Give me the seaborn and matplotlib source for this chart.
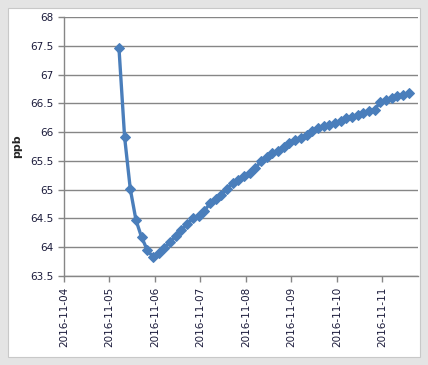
import matplotlib
matplotlib.use("Agg")
import matplotlib.pyplot as plt
import matplotlib.dates as mdates
from matplotlib.patches import Rectangle
import seaborn as sns
import pandas as pd

# 3-hourly readings
times = [
    "2016-11-05 05:00", "2016-11-05 08:00", "2016-11-05 11:00", "2016-11-05 14:00",
    "2016-11-05 17:00", "2016-11-05 20:00", "2016-11-05 23:00",
    "2016-11-06 02:00", "2016-11-06 05:00", "2016-11-06 08:00", "2016-11-06 11:00",
    "2016-11-06 14:00", "2016-11-06 17:00", "2016-11-06 20:00", "2016-11-06 23:00",
    "2016-11-07 02:00", "2016-11-07 05:00", "2016-11-07 08:00", "2016-11-07 11:00",
    "2016-11-07 14:00", "2016-11-07 17:00", "2016-11-07 20:00", "2016-11-07 23:00",
    "2016-11-08 02:00", "2016-11-08 05:00", "2016-11-08 08:00", "2016-11-08 11:00",
    "2016-11-08 14:00", "2016-11-08 17:00", "2016-11-08 20:00", "2016-11-08 23:00",
    "2016-11-09 02:00", "2016-11-09 05:00", "2016-11-09 08:00", "2016-11-09 11:00",
    "2016-11-09 14:00", "2016-11-09 17:00", "2016-11-09 20:00", "2016-11-09 23:00",
    "2016-11-10 02:00", "2016-11-10 05:00", "2016-11-10 08:00", "2016-11-10 11:00",
    "2016-11-10 14:00", "2016-11-10 17:00", "2016-11-10 20:00", "2016-11-10 23:00",
    "2016-11-11 02:00", "2016-11-11 05:00", "2016-11-11 08:00", "2016-11-11 11:00",
    "2016-11-11 14:00",
]
ppb = [
    67.47, 65.91, 65.01, 64.47, 64.17, 63.95, 63.83,
    63.90, 63.98, 64.09, 64.20, 64.30, 64.40, 64.50, 64.55,
    64.63, 64.76, 64.83, 64.91, 65.01, 65.12, 65.17, 65.23,
    65.29, 65.37, 65.50, 65.57, 65.63, 65.68, 65.75, 65.81,
    65.86, 65.90, 65.95, 66.02, 66.07, 66.10, 66.12, 66.15,
    66.20, 66.25, 66.27, 66.30, 66.33, 66.36, 66.39, 66.53,
    66.56, 66.59, 66.62, 66.65, 66.68,
]
tick_days = ["2016-11-04", "2016-11-05", "2016-11-06", "2016-11-07",
             "2016-11-08", "2016-11-09", "2016-11-10", "2016-11-11"]

df = pd.DataFrame({"time": pd.to_datetime(times), "ppb": ppb})

sns.set_style("white")
plt.rcParams["font.family"] = ["DejaVu Sans"]

fig = plt.figure(figsize=(4.28, 3.65), dpi=100)
fig.patch.set_facecolor("white")
# chart area frame with a soft shadow
fig.patches.append(Rectangle((0, 0), 1, 1, transform=fig.transFigure,
                             facecolor="#e4e4e4", edgecolor="none", zorder=-3))
fig.patches.append(Rectangle((8 / 428, 8 / 365), 412 / 428, 349 / 365,
                             transform=fig.transFigure, facecolor="white",
                             edgecolor="#c8c8c8", lw=0.8, zorder=-2))

ax = fig.add_axes([0.1495, 0.2438, 0.8271, 0.7096])
ax.set_facecolor("white")

blue = "#4a7ebb"
sns.lineplot(data=df, x="time", y="ppb", ax=ax, color=blue, lw=2.4,
             marker="D", markersize=5, markeredgecolor=blue, markerfacecolor=blue)

ax.set_ylim(63.5, 68)
ax.set_yticks([63.5 + 0.5 * i for i in range(10)])
ax.yaxis.set_major_formatter(matplotlib.ticker.FuncFormatter(lambda v, p: f"{v:g}"))
ax.set_xlim(pd.Timestamp("2016-11-04"), pd.Timestamp("2016-11-11 18:50"))
ax.set_xticks(pd.to_datetime(tick_days))
ax.xaxis.set_major_formatter(mdates.DateFormatter("%Y-%m-%d"))
plt.setp(ax.get_xticklabels(), rotation=90)

ax.grid(axis="y", color="#868686", lw=1)
ax.grid(axis="x", visible=False)
for s in ["top", "right"]:
    ax.spines[s].set_visible(False)
for s in ["left", "bottom"]:
    ax.spines[s].set_color("#868686")
    ax.spines[s].set_linewidth(1)
ax.tick_params(axis="both", direction="out", length=4.5, width=1, color="#868686",
               labelsize=7.5, labelcolor="#1a1a3a", pad=3)
ax.tick_params(axis="x", bottom=True)
ax.tick_params(axis="y", left=True)

ax.set_xlabel("")
ax.set_ylabel("ppb", fontsize=8, fontweight="bold", labelpad=6)

fig.savefig("out.png", dpi=100, facecolor=fig.get_facecolor())
